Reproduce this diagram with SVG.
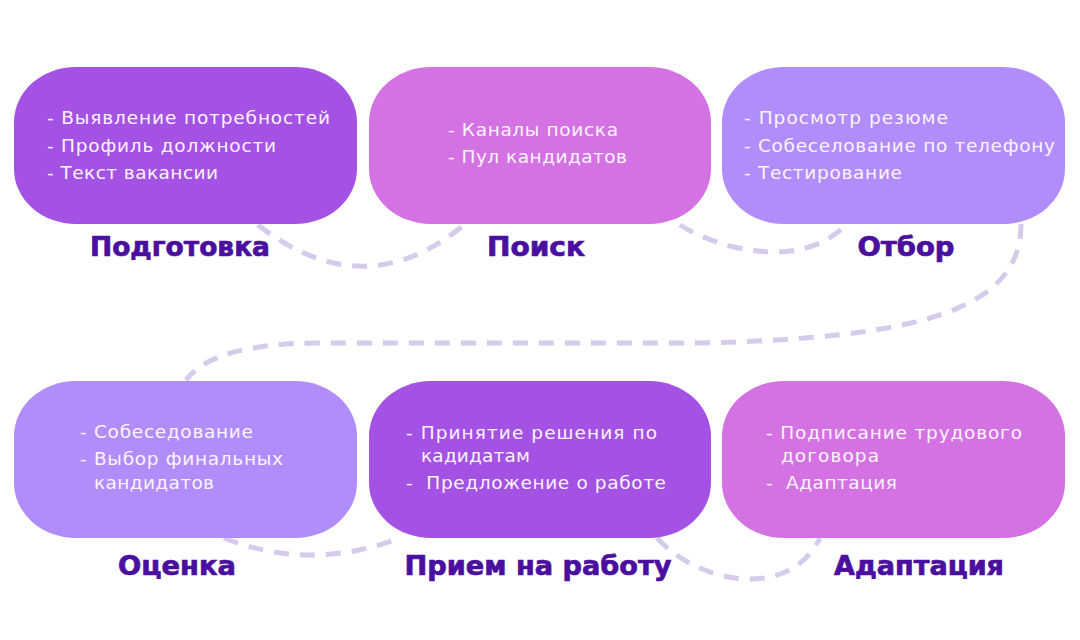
<svg xmlns="http://www.w3.org/2000/svg" width="1080" height="640" viewBox="0 0 1080 640">
  <style>
    .box { stroke: none; }
    .c1 { fill: #A452E3; }
    .c2 { fill: #D472E3; }
    .c3 { fill: #B18DFB; }
    .body { font-family: "DejaVu Sans", "Liberation Sans", sans-serif; font-size: 18.5px; fill: #FBF4FF; white-space: pre; }
    .label { font-family: "DejaVu Sans", "Liberation Sans", sans-serif; font-size: 26px; font-weight: bold; fill: #4A0F9E; stroke: #4A0F9E; stroke-width: 0.7; text-anchor: middle; }
    .conn { fill: none; stroke: #D6CBEA; stroke-width: 5; stroke-dasharray: 15 11; }
  </style>
  <rect width="1080" height="640" fill="#FFFFFF"/>

  <g id="connectors">
    <path class="conn" d="M258,225 Q365,308 465,224"/>
    <path class="conn" d="M680,225 C720,250 800,270 845,226"/>
    <path class="conn" d="M1021,224 C1021,310 920,338 700,343 L320,343 C250,343 205,355 186,380"/>
    <path class="conn" d="M224,538 Q310,572 400,538"/>
    <path class="conn" d="M657,538 C700,585 790,600 820,538"/>
  </g>

  <g id="node-podgotovka">
    <rect class="box c1" x="14" y="67" width="343" height="157" rx="62" ry="55"/>
    <text class="body" x="47" y="124" textLength="283" lengthAdjust="spacing">- Выявление потребностей</text>
    <text class="body" x="47" y="152" textLength="229" lengthAdjust="spacing">- Профиль должности</text>
    <text class="body" x="47" y="179" textLength="171" lengthAdjust="spacing">- Текст вакансии</text>
    <text class="label" x="180" y="256" textLength="180" lengthAdjust="spacingAndGlyphs">Подготовка</text>
  </g>

  <g id="node-poisk">
    <rect class="box c2" x="369" y="67" width="342" height="157" rx="62" ry="55"/>
    <text class="body" x="448" y="136" textLength="170" lengthAdjust="spacing">- Каналы поиска</text>
    <text class="body" x="448" y="163" textLength="179" lengthAdjust="spacing">- Пул кандидатов</text>
    <text class="label" x="536" y="256" textLength="98" lengthAdjust="spacingAndGlyphs">Поиск</text>
  </g>

  <g id="node-otbor">
    <rect class="box c3" x="722" y="67" width="343" height="157" rx="62" ry="55"/>
    <text class="body" x="744" y="124" textLength="204" lengthAdjust="spacing">- Просмотр резюме</text>
    <text class="body" x="744" y="152" textLength="311" lengthAdjust="spacing">- Собеселование по телефону</text>
    <text class="body" x="744" y="179" textLength="158" lengthAdjust="spacing">- Тестирование</text>
    <text class="label" x="906" y="256" textLength="97" lengthAdjust="spacingAndGlyphs">Отбор</text>
  </g>

  <g id="node-ocenka">
    <rect class="box c3" x="14" y="381" width="343" height="157" rx="62" ry="55"/>
    <text class="body" x="80" y="438" textLength="173" lengthAdjust="spacing">- Собеседование</text>
    <text class="body" x="80" y="465" textLength="203" lengthAdjust="spacing">- Выбор финальных</text>
    <text class="body" x="94" y="489" textLength="120" lengthAdjust="spacing">кандидатов</text>
    <text class="label" x="177" y="575" textLength="118" lengthAdjust="spacingAndGlyphs">Оценка</text>
  </g>

  <g id="node-priem">
    <rect class="box c1" x="369" y="381" width="342" height="157" rx="62" ry="55"/>
    <text class="body" x="406" y="439" textLength="251" lengthAdjust="spacing">- Принятие решения по</text>
    <text class="body" x="421" y="462" textLength="109" lengthAdjust="spacing">кадидатам</text>
    <text class="body" x="406" y="489" textLength="260" lengthAdjust="spacing">-  Предложение о работе</text>
    <text class="label" x="538" y="575" textLength="267" lengthAdjust="spacingAndGlyphs">Прием на работу</text>
  </g>

  <g id="node-adaptaciya">
    <rect class="box c2" x="722" y="381" width="343" height="157" rx="62" ry="55"/>
    <text class="body" x="766" y="439" textLength="256" lengthAdjust="spacing">- Подписание трудового</text>
    <text class="body" x="781" y="462" textLength="98" lengthAdjust="spacing">договора</text>
    <text class="body" x="766" y="489" textLength="131" lengthAdjust="spacing">-  Адаптация</text>
    <text class="label" x="919" y="575" textLength="170" lengthAdjust="spacingAndGlyphs">Адаптация</text>
  </g>
</svg>
